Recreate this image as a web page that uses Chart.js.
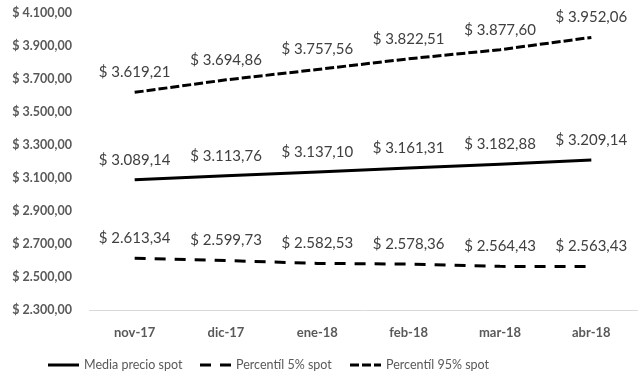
<!DOCTYPE html>
<html>
<head>
<meta charset="utf-8">
<script src="https://cdn.jsdelivr.net/npm/chart.js@4/dist/chart.umd.min.js"></script>
<style>
  html, body { margin: 0; padding: 0; background: #fff; }
  #wrap { width: 641px; height: 380px; }
</style>
</head>
<body>
<div id="wrap"><canvas id="spotChart" width="641" height="380"></canvas></div>
<script>
// Data
const months = ['nov-17', 'dic-17', 'ene-18', 'feb-18', 'mar-18', 'abr-18'];
const mediaSpot = [3089.14, 3113.76, 3137.10, 3161.31, 3182.88, 3209.14];
const p5Spot = [2613.34, 2599.73, 2582.53, 2578.36, 2564.43, 2563.43];
const p95Spot = [3619.21, 3694.86, 3757.56, 3822.51, 3877.60, 3952.06];
const yMin = 2300;
const yMax = 4100;
const yStep = 200;

const FONT = 'Lato, "Liberation Sans", sans-serif';

// "$ 3.089,14" style
function formatPeso(v) {
    const parts = v.toFixed(2).split('.');
    const intPart = parts[0].replace(/\B(?=(\d{3})+(?!\d))/g, '.');
    return '$ ' + intPart + ',' + parts[1];
}

// Value labels above each point (no datalabels plugin available)
const pointLabels = {
    id: 'pointLabels',
    afterDatasetsDraw(chart) {
        const ctx = chart.ctx;
        ctx.save();
        ctx.font = '15px ' + FONT;
        ctx.fillStyle = '#404040';
        ctx.textAlign = 'center';
        ctx.textBaseline = 'middle';
        chart.data.datasets.forEach((ds, i) => {
            const meta = chart.getDatasetMeta(i);
            meta.data.forEach((pt, j) => {
                ctx.fillText(formatPeso(ds.data[j]), pt.x, pt.y - 20);
            });
        });
        ctx.restore();
    }
};

// Legend drawn by hand so the dashes and the left-shifted position match
const legendSlots = [48, 200, 350];
const bottomLegend = {
    id: 'bottomLegend',
    afterDraw(chart) {
        const ctx = chart.ctx;
        const y = 365;
        ctx.save();
        ctx.font = '12.5px ' + FONT;
        ctx.textBaseline = 'middle';
        ctx.textAlign = 'left';
        chart.data.datasets.forEach((ds, i) => {
            const x = legendSlots[i];
            ctx.strokeStyle = ds.borderColor;
            ctx.lineWidth = ds.borderWidth;
            ctx.setLineDash(ds.borderDash || []);
            ctx.beginPath();
            ctx.moveTo(x, y);
            ctx.lineTo(x + 31, y);
            ctx.stroke();
            ctx.fillStyle = '#595959';
            ctx.fillText(ds.label, x + 36, y);
        });
        ctx.restore();
    }
};

const ctx = document.getElementById('spotChart').getContext('2d');
new Chart(ctx, {
    type: 'line',
    data: {
        labels: months,
        datasets: [{
            label: 'Media precio spot',
            data: mediaSpot,
            borderColor: '#000',
            borderWidth: 3,
            pointRadius: 0,
            tension: 0,
            fill: false
        }, {
            label: 'Percentíl 5% spot',
            data: p5Spot,
            borderColor: '#000',
            borderWidth: 3,
            borderDash: [11, 9],
            pointRadius: 0,
            tension: 0,
            fill: false
        }, {
            label: 'Percentíl 95% spot',
            data: p95Spot,
            borderColor: '#000',
            borderWidth: 3,
            borderDash: [9, 3],
            pointRadius: 0,
            tension: 0,
            fill: false
        }]
    },
    options: {
        responsive: false,
        animation: false,
        layout: { padding: { top: 0, right: 4, left: 0, bottom: 31 } },
        plugins: {
            legend: { display: false },
            tooltip: { enabled: false }
        },
        scales: {
            x: {
                offset: true,
                grid: { display: false, drawTicks: false },
                border: { display: true, color: '#d9d9d9', width: 1 },
                ticks: {
                    padding: 15,
                    color: '#595959',
                    font: { family: FONT, size: 13, weight: 'bold' }
                },
                afterFit(scale) { scale.height = 39; }
            },
            y: {
                min: yMin,
                max: yMax,
                grid: { display: false, drawTicks: false },
                border: { display: false },
                ticks: {
                    stepSize: yStep,
                    padding: 17,
                    color: '#595959',
                    font: { family: FONT, size: 12.5, weight: 'bold' },
                    callback: (v) => formatPeso(v)
                },
                afterFit(scale) {
                    scale.width = 89;
                    // tick padding would otherwise push the plot top down
                    scale.paddingTop = 13;
                    scale.paddingBottom = 0;
                }
            }
        }
    },
    plugins: [pointLabels, bottomLegend]
});
</script>
</body>
</html>
